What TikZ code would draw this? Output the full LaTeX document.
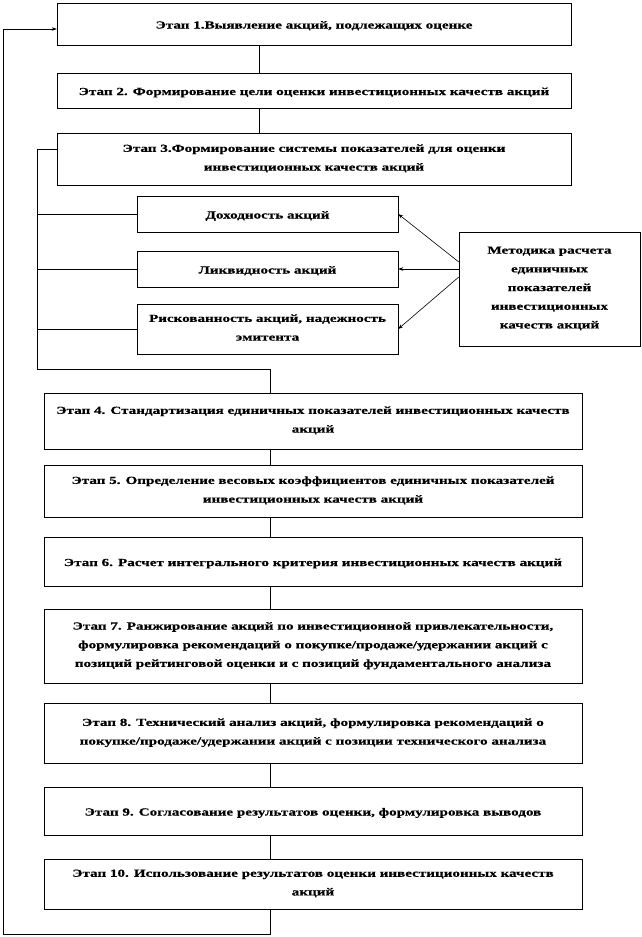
\documentclass[tikz,border=0pt]{standalone}
\usepackage{fontspec}
\setmainfont{Liberation Serif}[FakeStretch=1.4, BoldFeatures={FakeBold=0.6}]
\usetikzlibrary{arrows.meta}
\begin{document}
\begin{tikzpicture}[x=1pt,y=-1pt,
		every node/.style={font=\bfseries\fontsize{10.8}{18.7}\selectfont, align=center, inner sep=0pt,
			execute at begin node={\rule{0pt}{12pt}}, execute at end node={\rule[-3pt]{0pt}{3pt}}},
		stage/.style={draw, minimum width=514pt},
		wide/.style={draw, minimum width=538pt},
		index/.style={draw, minimum width=261pt},
		link/.style={line width=0.6pt},
		tip/.style={-{Stealth[length=5pt,width=3.5pt]}}
		]
	\useasboundingbox (0,0) rectangle (642,937);
	\coordinate (c1) at (259,0);
	\coordinate (c2) at (270,0);
	\coordinate (b) at (37,0);
	% first three stages
	\node [stage, minimum height=42pt] (s1) at (314,24) {Этап 1.Выявление акций, подлежащих оценке};
	\node [stage, minimum height=35pt] (s2) at (314,90.5) {Этап 2. Формирование цели оценки инвестиционных качеств акций};
	\node [stage, minimum height=52pt] (s3) at (314,159) {Этап 3.Формирование системы показателей для оценки\\ инвестиционных качеств акций};
	% single indicators
	\node [index, minimum height=36pt] (d1) at (267.5,214) {Доходность акций};
	\node [index, minimum height=36pt] (d2) at (267.5,269) {Ликвидность акций};
	\node [index, minimum height=50pt] (d3) at (267.5,329) {Рискованность акций, надежность\\ эмитента};
	\node [draw, minimum width=181pt, minimum height=114pt] (m) at (549.5,289) {Методика расчета\\ единичных\\ показателей\\ инвестиционных\\ качеств  акций};
	% remaining stages
	\node [wide, minimum height=56pt] (s4) at (313,421) {Этап 4. Стандартизация единичных показателей инвестиционных качеств\\ акций};
	\node [wide, minimum height=52pt] (s5) at (313,491) {Этап 5. Определение весовых коэффициентов  единичных показателей\\ инвестиционных качеств  акций};
	\node [wide, minimum height=49pt] (s6) at (313,561.5) {Этап 6. Расчет интегрального критерия инвестиционных качеств  акций};
	\node [wide, minimum height=74pt] (s7) at (313,646) {Этап 7. Ранжирование акций по инвестиционной привлекательности,\\ формулировка  рекомендаций о покупке/продаже/удержании  акций  с\\ позиций рейтинговой оценки и с позиций фундаментального анализа};
	\node [wide, minimum height=60pt] (s8) at (313,733) {Этап 8. Технический анализ акций, формулировка  рекомендаций о\\ покупке/продаже/удержании  акций с позиции технического анализа};
	\node [wide, minimum height=48pt] (s9) at (313,811) {Этап 9. Согласование результатов оценки, формулировка выводов};
	\node [wide, minimum height=50pt] (s10) at (313,884) {Этап 10. Использование результатов оценки инвестиционных качеств\\ акций};
	% connectors
	\draw [link] (s1.south -| c1) -- (s2.north -| c1);
	\draw [link] (s2.south -| c1) -- (s3.north -| c1);
	\draw [link] ([yshift=10pt]s3.west) -| (37,369) -| (s4.north -| c2);
	\foreach \d in {d1,d2,d3}
		\draw [link] (\d.west -| b) -- (\d.west);
	\draw [link, tip] ([yshift=27pt]m.west) -- (d1.east);
	\draw [link, tip] ([yshift=20pt]m.west) -- (d2.east);
	\draw [link, tip] ([yshift=12pt]m.west) -- (d3.east);
	\foreach \a/\b in {s4/s5,s5/s6,s6/s7,s7/s8,s8/s9,s9/s10}
		\draw [link] (\a.south -| c2) -- (\b.north -| c2);
	% feedback loop
	\draw [link, tip] (s10.south -| c2) -- (270,934) -| (3,29) -- ([yshift=-5pt]s1.west);
\end{tikzpicture}
\end{document}
